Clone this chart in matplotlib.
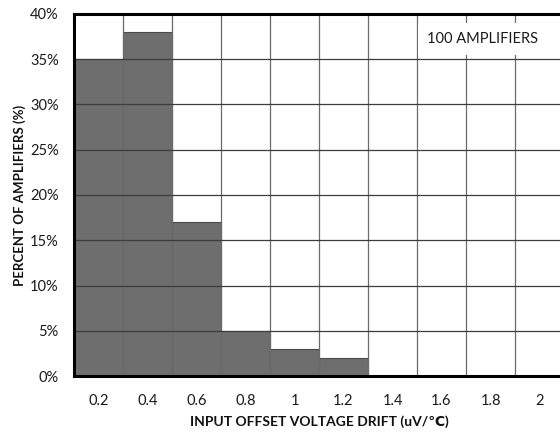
import matplotlib
matplotlib.use("Agg")
import matplotlib.pyplot as plt
import numpy as np

plt.rcParams['font.family'] = ['Lato', 'DejaVu Sans']

# drift bins (uV/C) and percent of amplifiers in each
drift_labels = ['0.2', '0.4', '0.6', '0.8', '1', '1.2', '1.4', '1.6', '1.8', '2']
percent = [35, 38, 17, 5, 3, 2, 0, 0, 0, 0]
y_ticks = [0, 5, 10, 15, 20, 25, 30, 35, 40]

fig = plt.figure(figsize=(5.6, 4.36), dpi=100)
# right edge sits just past the figure, like the original crop
ax = fig.add_axes([74 / 560, 1 - 376 / 436, 490 / 560, 362 / 436])

x = np.arange(len(drift_labels))
ax.bar(x, percent, width=1.0, color='#6e6e6e', edgecolor='#4a4a4a', linewidth=0.8, zorder=1)

ax.set_xlim(-0.5, len(drift_labels) - 0.5)
ax.set_ylim(0, 40)

# grid: vertical lines on the bin edges, horizontal every 5%
for b in np.arange(0.5, len(drift_labels) - 0.5, 1):
    ax.axvline(b, color='#6a6a6a', linewidth=0.9, zorder=2)
for t in y_ticks[1:-1]:
    ax.axhline(t, color='#3c3c3c', linewidth=0.9, zorder=2)

ax.set_xticks(x)
ax.set_xticklabels(drift_labels)
ax.set_yticks(y_ticks)
ax.set_yticklabels([f'{t}%' for t in y_ticks])
ax.tick_params(axis='x', length=0, pad=13, labelsize=10.5, labelcolor='#1a1a1a')
ax.tick_params(axis='y', length=0, pad=11, labelsize=10.5, labelcolor='#1a1a1a')

for side in ['top', 'left', 'bottom']:
    ax.spines[side].set_linewidth(2.2)
    ax.spines[side].set_color('black')
    ax.spines[side].set_zorder(5)
ax.spines['right'].set_visible(False)

ax.set_xlabel('INPUT OFFSET VOLTAGE DRIFT (uV/\u2103)', fontsize=10, fontweight='bold',
              labelpad=5, color='#111111')
ax.set_ylabel('PERCENT OF AMPLIFIERS (%)', fontsize=9.5, fontweight='bold',
              labelpad=3, color='#111111')

ax.text(7.83, 37.2, '100 AMPLIFIERS', ha='center', va='center', fontsize=10.5, color='#1a1a1a',
        zorder=4, bbox=dict(facecolor='white', edgecolor='none', pad=6.5))

fig.savefig('out.png', dpi=100)
